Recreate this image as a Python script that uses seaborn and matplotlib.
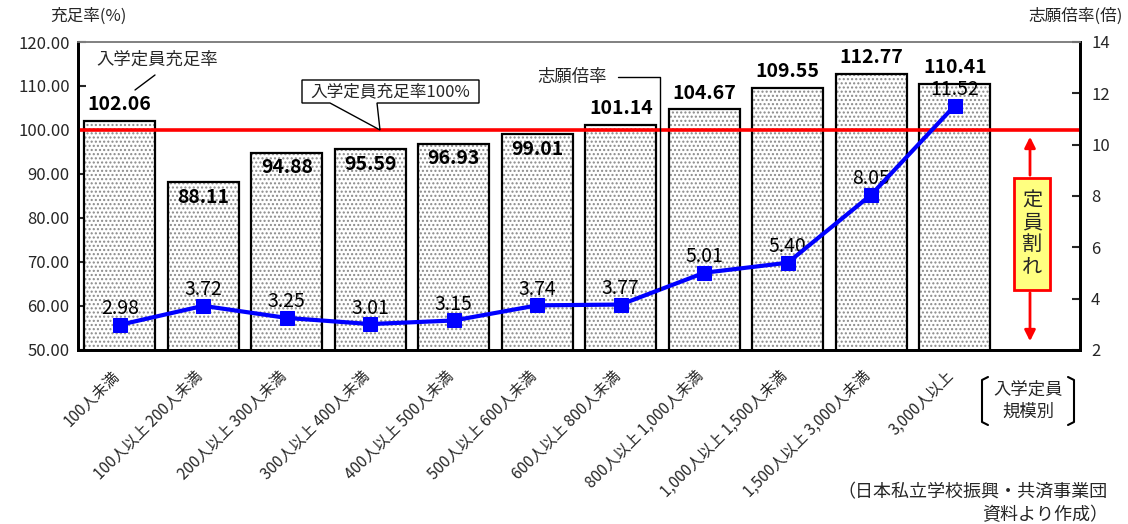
import numpy as np
import matplotlib
matplotlib.use("Agg")
import matplotlib.pyplot as plt
import matplotlib.transforms as mtransforms
from matplotlib.patches import Polygon, Rectangle, FancyArrowPatch
from matplotlib.lines import Line2D
import seaborn as sns

# 入学定員規模別 の区分
categories = [
    "100人未満",
    "100人以上 200人未満",
    "200人以上 300人未満",
    "300人以上 400人未満",
    "400人以上 500人未満",
    "500人以上 600人未満",
    "600人以上 800人未満",
    "800人以上 1,000人未満",
    "1,000人以上 1,500人未満",
    "1,500人以上 3,000人未満",
    "3,000人以上",
]
# 入学定員充足率 (%)
fill_rate = [102.06, 88.11, 94.88, 95.59, 96.93, 99.01, 101.14, 104.67, 109.55, 112.77, 110.41]
# 志願倍率 (倍)
app_ratio = [2.98, 3.72, 3.25, 3.01, 3.15, 3.74, 3.77, 5.01, 5.40, 8.05, 11.52]

left_ticks = [50, 60, 70, 80, 90, 100, 110, 120]
right_ticks = [2, 4, 6, 8, 10, 12, 14]
full_line = 100

sns.set_style("white")
plt.rcParams["font.family"] = ["Noto Sans CJK JP", "DejaVu Sans"]
plt.rcParams["hatch.linewidth"] = 1.0
plt.rcParams["axes.unicode_minus"] = False

W, H = 1128, 524
fig, ax = plt.subplots(figsize=(W / 100, H / 100), dpi=100)
fig.subplots_adjust(left=78 / W, right=1080 / W, bottom=1 - 350 / H, top=1 - 42 / H)


def px(x, y):
    """Pixel position (from the top-left corner) to figure fraction."""
    return x / W, 1 - y / H


bar_w = 0.85
# dotted fill
sns.barplot(x=categories, y=fill_rate, ax=ax, color="white", edgecolor="#8a8a8a",
            hatch="....", linewidth=0, width=bar_w, errorbar=None, zorder=2)
# bar outlines
sns.barplot(x=categories, y=fill_rate, ax=ax, fill=False, color="black",
            linewidth=1.6, width=bar_w, errorbar=None, zorder=3)

# values: above the bar when at/over 100%, just inside the top otherwise
pos = np.arange(len(categories))
for xi, v in zip(pos, fill_rate):
    dy = 5 if v >= full_line else -11
    va = "bottom" if v >= full_line else "center"
    ax.annotate(f"{v:.2f}", (xi, v), xytext=(0, dy), textcoords="offset points",
                ha="center", va=va, fontsize=14, fontweight="bold",
                color="black", zorder=6)

ax.axhline(full_line, color="#FF0000", lw=2.6, zorder=4)

ax.set_ylim(50, 120)
ax.set_yticks(left_ticks)
ax.set_yticklabels([f"{v:.2f}" for v in left_ticks])
ax.set_ylabel("")
ax.set_xlabel("")

# 志願倍率 on the secondary axis
ax2 = ax.twinx()
sns.lineplot(x=pos, y=app_ratio, ax=ax2, color="#0000FF", lw=3, marker="s",
             markersize=10, markeredgecolor="#0000FF", zorder=5)
for xi, v in zip(pos, app_ratio):
    ax2.annotate(f"{v:.2f}", (xi, v), xytext=(0, 4), textcoords="offset points",
                 ha="center", va="bottom", fontsize=14, color="black")
ax2.set_ylim(2, 14)
ax2.set_yticks(right_ticks)
ax2.set_ylabel("")

ax.set_xlim(-0.5, len(categories) + 0.5)
ax.set_xticks(pos)
ax.set_xticklabels(categories, rotation=45, ha="right", va="center",
                   rotation_mode="anchor", fontsize=11)
ax.set_xticks(np.arange(len(categories)) + 0.5, minor=True)
ax.tick_params(axis="x", which="major", length=0, pad=17)
ax.tick_params(axis="x", which="minor", direction="in", length=6, width=1.5)
shift = mtransforms.ScaledTranslation(-3 / 100, 0, fig.dpi_scale_trans)
for lab in ax.get_xticklabels():
    lab.set_transform(lab.get_transform() + shift)

ax.tick_params(axis="y", direction="in", length=6, width=1.5, labelsize=12, pad=6)
ax2.tick_params(axis="y", direction="in", length=6, width=1.5, labelsize=12, pad=8)

for a in (ax, ax2):
    for side in ("left", "right", "bottom"):
        a.spines[side].set_color("black")
        a.spines[side].set_linewidth(2)
    a.spines["top"].set_color("#808080")
    a.spines["top"].set_linewidth(1.2)
    a.grid(False)

# axis titles
fig.text(*px(50, 16), "充足率(%)", ha="left", va="center", fontsize=12)
fig.text(*px(1123, 16), "志願倍率(倍)", ha="right", va="center", fontsize=12)

# callout: 入学定員充足率
fig.text(*px(157, 60), "入学定員充足率", ha="center", va="center", fontsize=12.5)
fig.add_artist(Line2D([155 / W, 135 / W], [1 - 75 / H, 1 - 90 / H],
                      color="black", lw=1))

# callout box pointing to the 100% line
pts = [(302, 80), (479, 80), (479, 103), (377, 103), (380, 130), (330, 103), (302, 103)]
fig.add_artist(Polygon([px(x, y) for x, y in pts], closed=True, facecolor="white",
                       edgecolor="black", lw=1, zorder=6))
fig.text(*px(390, 92), "入学定員充足率100%", ha="center", va="center",
         fontsize=12, zorder=7)

# callout: 志願倍率
fig.text(*px(572, 77), "志願倍率", ha="center", va="center", fontsize=12.5)
fig.add_artist(Line2D([618 / W, 660 / W, 660 / W],
                      [1 - 77 / H, 1 - 77 / H, 1 - 290 / H], color="black", lw=1))

# 定員割れ marker
fig.add_artist(FancyArrowPatch(px(1030, 178), px(1030, 134), arrowstyle="-|>",
                               mutation_scale=16, color="#FF0000", lw=2))
fig.add_artist(FancyArrowPatch(px(1030, 290), px(1030, 344), arrowstyle="-|>",
                               mutation_scale=16, color="#FF0000", lw=2))
bx0, by0 = px(1014, 290)
bx1, by1 = px(1050, 178)
fig.add_artist(Rectangle((bx0, by0), bx1 - bx0, by1 - by0, facecolor="#FFFF80",
                         edgecolor="#FF0000", lw=2, zorder=6))
fig.text(*px(1032, 234), "定\n員\n割\nれ", ha="center", va="center",
         fontsize=14.5, linespacing=1.05, zorder=7)

# 入学定員規模別 caption with brackets
fig.text(*px(1028, 390), "入学定員", ha="center", va="center", fontsize=12.5)
fig.text(*px(1028, 412), "規模別", ha="center", va="center", fontsize=12.5)
for xs in ([988, 982, 982, 988], [1068, 1074, 1074, 1068]):
    fig.add_artist(Line2D([x / W for x in xs],
                          [1 - 377 / H, 1 - 380 / H, 1 - 422 / H, 1 - 425 / H],
                          color="black", lw=1.5))

# source note
fig.text(*px(1108, 492), "（日本私立学校振興・共済事業団", ha="right", va="center", fontsize=13)
fig.text(*px(1108, 515), "資料より作成）", ha="right", va="center", fontsize=13)

fig.savefig("out.png", dpi=100)
